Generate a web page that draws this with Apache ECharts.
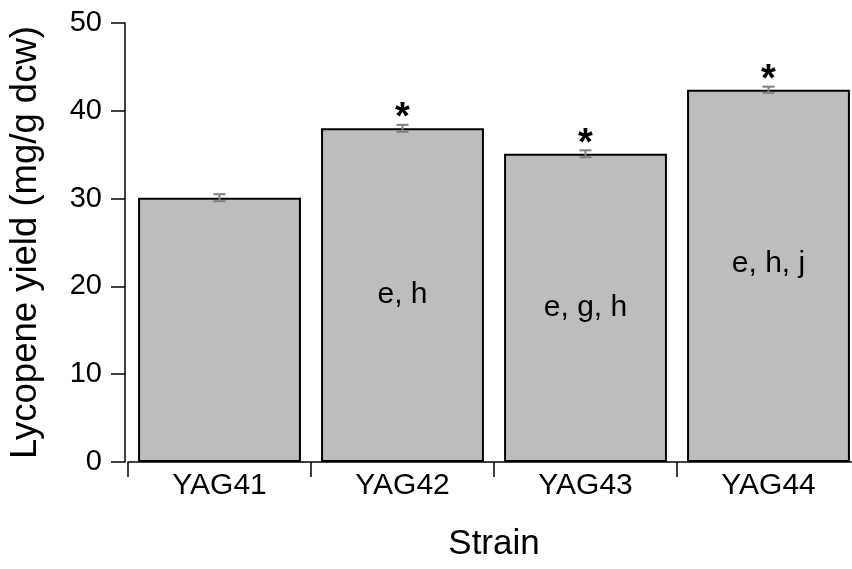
<!DOCTYPE html>
<html>
<head>
<meta charset="utf-8">
<script src="https://cdn.jsdelivr.net/npm/echarts@6/dist/echarts.min.js"></script>
<style>
  html, body { margin: 0; padding: 0; background: #fff; }
  #chart { width: 852px; height: 569px; }
</style>
</head>
<body>
<div id="chart"></div>
<script>
// data
const strains = ["YAG41", "YAG42", "YAG43", "YAG44"];
const yields = [30.1, 38.0, 35.1, 42.4];
const errors = [0.4, 0.4, 0.4, 0.35];
const stars = ["", "*", "*", "*"];
const letters = ["", "e, h", "e, g, h", "e, h, j"];
const yTicks = [0, 10, 20, 30, 40, 50];

const font = "Liberation Sans, Arial, Helvetica, sans-serif";

const chart = echarts.init(document.getElementById("chart"));

// bar items with in-bar letter labels
const barData = yields.map((v, i) => ({
  value: v,
  label: {
    show: letters[i] !== "",
    formatter: letters[i],
    offset: i === 3 ? [0, -12] : [0, 0],
  },
}));

const errData = yields.map((v, i) => [i, v, errors[i]]);

const option = {
  animation: false,
  backgroundColor: "#fff",
  grid: { left: 128, top: 23, width: 732, height: 439, outerBoundsMode: "none", containLabel: false },
  xAxis: {
    type: "category",
    data: strains,
    offset: 3,
    name: "Strain",
    nameLocation: "middle",
    nameGap: 62,
    nameTextStyle: { fontSize: 35, color: "#000", fontFamily: font },
    axisLine: { lineStyle: { color: "#000", width: 1.5 } },
    axisTick: { show: true, length: 15, lineStyle: { color: "#000", width: 1.5 } },
    axisLabel: { fontSize: 30, color: "#000", fontFamily: font, margin: 6 },
  },
  yAxis: {
    type: "value",
    min: yTicks[0],
    max: yTicks[yTicks.length - 1],
    interval: 10,
    offset: 3,
    name: "Lycopene yield (mg/g dcw)",
    nameLocation: "middle",
    nameGap: 81,
    nameTextStyle: { fontSize: 36.5, color: "#000", fontFamily: font },
    axisLine: { show: true, lineStyle: { color: "#000", width: 1.5 } },
    axisTick: { show: true, length: 14, lineStyle: { color: "#000", width: 1.5 } },
    axisLabel: { fontSize: 29, color: "#000", fontFamily: font, margin: 23 },
    splitLine: { show: false },
  },
  series: [
    {
      type: "bar",
      data: barData,
      barCategoryGap: "11%",
      itemStyle: { color: "#bdbdbd", borderColor: "#000", borderWidth: 2 },
      label: {
        position: "inside",
        fontSize: 30,
        color: "#000",
        fontFamily: font,
      },
      z: 2,
    },
    {
      // error bars + significance asterisks
      type: "custom",
      data: errData,
      z: 3,
      renderItem: function (params, api) {
        const idx = api.value(0);
        const mean = api.value(1);
        const err = api.value(2);
        const star = stars[idx];
        const top = api.coord([idx, mean + err]);
        const bot = api.coord([idx, mean - err]);
        const cap = 6;
        const st = { stroke: "#808080", lineWidth: 2 };
        const children = [
          { type: "line", shape: { x1: top[0], y1: top[1], x2: bot[0], y2: bot[1] }, style: st },
          { type: "line", shape: { x1: top[0] - cap, y1: top[1], x2: top[0] + cap, y2: top[1] }, style: st },
          { type: "line", shape: { x1: bot[0] - cap, y1: bot[1], x2: bot[0] + cap, y2: bot[1] }, style: st },
        ];
        if (star) {
          children.push({
            type: "text",
            x: top[0],
            y: top[1] + 13,
            style: {
              text: star,
              fontSize: 38,
              fontWeight: "bold",
              fontFamily: font,
              fill: "#000",
              align: "center",
              verticalAlign: "bottom",
            },
          });
        }
        return { type: "group", children: children };
      },
    },
  ],
};

chart.setOption(option);
</script>
</body>
</html>
